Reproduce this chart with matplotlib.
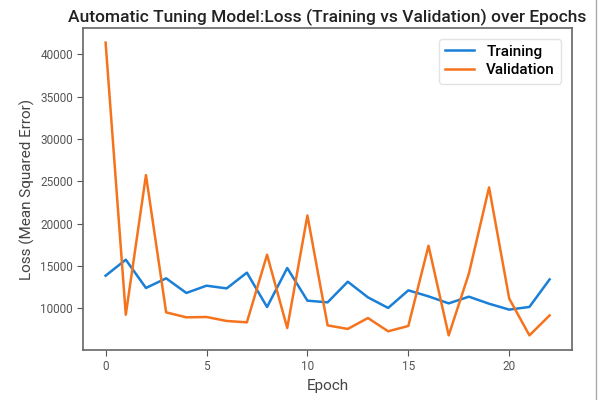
import matplotlib
matplotlib.use("Agg")
import matplotlib.pyplot as plt
from matplotlib.lines import Line2D

plt.rcParams['font.family'] = ['Roboto', 'DejaVu Sans']

epochs = list(range(23))
training = [13860, 15750, 12410, 13550, 11820, 12680, 12360, 14220, 10160, 14770,
            10910, 10710, 13150, 11300, 10050, 12130, 11420, 10590, 11380, 10550,
            9850, 10170, 13420]
validation = [41400, 9250, 25750, 9530, 8940, 8980, 8510, 8350, 16340, 7680,
              20980, 7990, 7570, 8860, 7290, 7920, 17400, 6810, 14100, 24290,
              11150, 6810, 9170]

fig = plt.figure(figsize=(6, 4), dpi=100)
ax = fig.add_axes([0.139, 0.125, 0.814, 0.805])

ax.plot(epochs, training, color='#1a7fd6', lw=1.8, label='Training')
ax.plot(epochs, validation, color='#f5731c', lw=1.8, label='Validation')

ax.set_title('Automatic Tuning Model:Loss (Training vs Validation) over Epochs',
             fontsize=12.5, fontweight='medium', color='#222222', pad=4)
ax.set_xlabel('Epoch', fontsize=11, color='#444444')
ax.set_ylabel('Loss (Mean Squared Error)', fontsize=11, color='#444444')
ax.set_xticks([0, 5, 10, 15, 20])
ax.set_yticks([10000, 15000, 20000, 25000, 30000, 35000, 40000])
ax.tick_params(labelsize=8.5, labelcolor='#555555', color='#555555', length=4)
for s in ax.spines.values():
    s.set_color('#666666')
    s.set_linewidth(1.2)

leg = ax.legend(loc='upper right', prop={'size': 11, 'weight': 'medium'},
                handlelength=1.9, labelspacing=0.3, borderpad=0.4,
                handletextpad=0.8, borderaxespad=0.7)
leg.get_frame().set_edgecolor('#dddddd')

# grey screenshot edge on the right
fig.add_artist(Line2D([0.993, 0.993], [0, 1], transform=fig.transFigure,
                      color='#aaaaaa', lw=1))

fig.savefig('out.png', dpi=100)
